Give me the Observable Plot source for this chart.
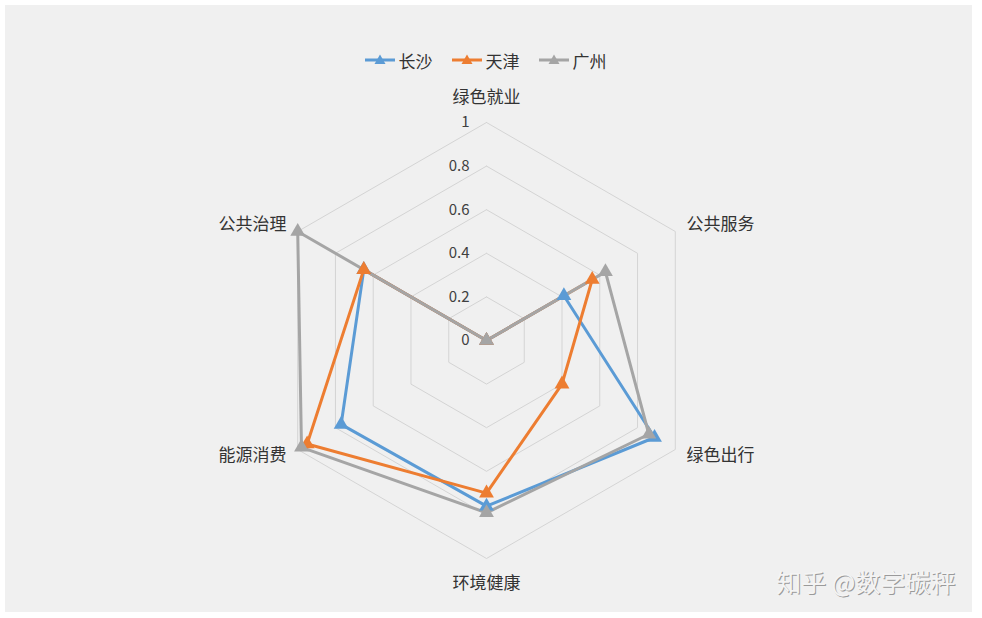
<!DOCTYPE html>
<html>
<head>
<meta charset="utf-8">
<script src="https://cdn.jsdelivr.net/npm/d3@7"></script>
<script src="https://cdn.jsdelivr.net/npm/@observablehq/plot@0.6"></script>
<style>
  html, body { margin: 0; padding: 0; background: #ffffff; }
  #wrap { position: relative; width: 982px; height: 618px; overflow: hidden; font-family: "Noto Sans CJK SC", "Noto Sans", sans-serif; }
  #panel { position: absolute; left: 5px; top: 5px; width: 967px; height: 607px; background: #f0f0f0; }
  #legend { position: absolute; left: 0; top: 47px; width: 970px; height: 26px; display: flex; justify-content: center; align-items: center; gap: 18px; font-size: 17px; color: #333; }
  #legend .item { display: flex; align-items: center; gap: 3px; }
  #chart { position: absolute; left: 0; top: 80px; }
</style>
</head>
<body>
<div id="wrap">
  <div id="panel"></div>
  <div id="legend"></div>
  <div id="chart"></div>
</div>
<script>
const categories = ["绿色就业", "公共服务", "绿色出行", "环境健康", "能源消费", "公共治理"];
const cities = ["长沙", "天津", "广州"];
const colors = ["#5b9bd5", "#ed7d31", "#a5a5a5"];
const changsha = [0, 0.41, 0.89, 0.76, 0.77, 0.65];
const tianjin  = [0, 0.56, 0.40, 0.70, 0.95, 0.65];
const guangzhou = [0, 0.63, 0.86, 0.79, 0.98, 1.0];
const ticks = [0, 0.2, 0.4, 0.6, 0.8, 1];
const tickLabels = ["0", "0.2", "0.4", "0.6", "0.8", "1"];
const watermark = "知乎 @数字碳秤";

const series = [changsha, tianjin, guangzhou];
const angle = i => (i * 2 * Math.PI) / categories.length;

// grid rings (closed hexagons)
const grid = [];
ticks.forEach(t => {
  for (let i = 0; i <= categories.length; i++) {
    const a = angle(i % categories.length);
    grid.push({ t, x: t * Math.sin(a), y: t * Math.cos(a) });
  }
});

// series points
const lines = [];
const pts = [];
cities.forEach((c, k) => {
  for (let i = 0; i <= categories.length; i++) {
    const j = i % categories.length;
    const v = series[k][j];
    const a = angle(j);
    const p = { city: c, cat: categories[j], v, x: v * Math.sin(a), y: v * Math.cos(a) };
    lines.push(p);
    if (i < categories.length) pts.push(p);
  }
});

// axis labels
const labels = categories.map((c, i) => {
  const a = angle(i);
  const vertical = Math.abs(Math.sin(a)) < 1e-6;
  const r = vertical ? 1.115 : 1.06;
  return { c, x: r * Math.sin(a), y: r * Math.cos(a),
           anchor: vertical ? "middle" : (Math.sin(a) > 0 ? "start" : "end") };
});

const tickData = ticks.map((t, i) => ({ t, label: tickLabels[i] }));

const font = '"Noto Sans CJK SC", "Noto Sans", sans-serif';

const plot = Plot.plot({
  width: 982,
  height: 538,
  margin: 0,
  style: { background: "transparent", fontFamily: font, overflow: "visible" },
  x: { type: "linear", domain: [-1, 1], range: [268, 704], axis: null },
  y: { type: "linear", domain: [-1, 1], range: [478, 42], axis: null },
  color: { domain: cities, range: colors },
  marks: [
    Plot.line(grid, { x: "x", y: "y", z: "t", stroke: "#d4d4d4", strokeWidth: 1 }),
    Plot.text(tickData, { x: 0, y: "t", text: "label", textAnchor: "end", dx: -17, fontSize: 15, fill: "#404040" }),
    Plot.line(lines, { x: "x", y: "y", z: "city", stroke: "city", strokeWidth: 3, curve: "linear" }),
    Plot.dot(pts, { x: "x", y: "y", fill: "city", symbol: "triangle", r: 5.5, stroke: null }),
    Plot.text(labels.filter(d => d.anchor === "middle"), { x: "x", y: "y", text: "c", textAnchor: "middle", fontSize: 17, fill: "#333" }),
    Plot.text(labels.filter(d => d.anchor === "start"), { x: "x", y: "y", text: "c", textAnchor: "start", fontSize: 17, fill: "#333" }),
    Plot.text(labels.filter(d => d.anchor === "end"), { x: "x", y: "y", text: "c", textAnchor: "end", fontSize: 17, fill: "#333" }),
    Plot.text([watermark], { frameAnchor: "bottom-right", dx: -26, dy: -26, fontSize: 25, fill: "#9a9a9a" }),
    Plot.text([watermark], { frameAnchor: "bottom-right", dx: -27, dy: -27, fontSize: 25, fill: "#f4f4f4" })
  ]
});
document.getElementById("chart").appendChild(plot);

// legend
const legend = document.getElementById("legend");
cities.forEach((c, k) => {
  const item = document.createElement("div");
  item.className = "item";
  item.innerHTML = `<svg width="32" height="14"><line x1="1" y1="7" x2="31" y2="7" stroke="${colors[k]}" stroke-width="3"/><path d="M16,1.5 L21.5,11 L10.5,11 Z" fill="${colors[k]}"/></svg><span>${c}</span>`;
  legend.appendChild(item);
});
</script>
</body>
</html>
